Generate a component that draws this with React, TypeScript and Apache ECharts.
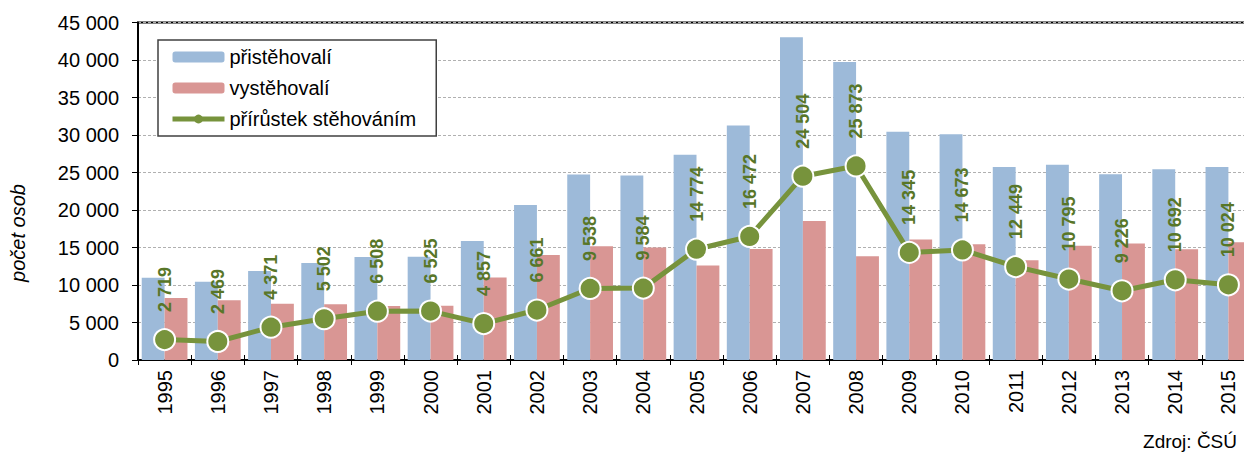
import React, { useEffect, useRef } from "react";
import * as echarts from "echarts";

const years = ["1995","1996","1997","1998","1999","2000","2001","2002","2003","2004","2005","2006","2007","2008","2009","2010","2011","2012","2013","2014","2015"];
const immigrants = [10980, 10420, 11860, 12950, 13720, 13770, 15860, 20660, 24720, 24600, 27380, 31260, 43030, 39720, 30420, 30090, 25740, 26020, 24770, 25450, 25740];
const emigrants = [8261, 7951, 7489, 7448, 7212, 7245, 11003, 13999, 15182, 15016, 12606, 14788, 18526, 13847, 16075, 15417, 13291, 15225, 15544, 14758, 15716];
const netMigration = [2719, 2469, 4371, 5502, 6508, 6525, 4857, 6661, 9538, 9584, 14774, 16472, 24504, 25873, 14345, 14673, 12449, 10795, 9226, 10692, 10024];

const seriesNames = ["přistěhovalí", "vystěhovalí", "přírůstek stěhováním"];
const yAxisTitle = "počet osob";
const sourceNote = "Zdroj: ČSÚ";

const fmt = (v: number) => String(v).replace(/\B(?=(\d{3})+(?!\d))/g, " ");
const FONT = "Liberation Sans, Arial, sans-serif";
const GREEN = "#77933C";

export default function App() {
  const ref = useRef<HTMLDivElement>(null);
  useEffect(() => {
    if (!ref.current) return;
    const chart = echarts.init(ref.current, undefined, { renderer: "svg" });
    chart.setOption({
      animation: false,
      backgroundColor: "#ffffff",
      textStyle: { fontFamily: FONT },
      grid: {
        left: 138,
        top: 22.5,
        bottom: 94,
        right: 1,
        show: true,
        borderColor: "#000",
        borderWidth: 2,
        backgroundColor: "transparent",
      },
      legend: {
        orient: "vertical",
        left: 158,
        top: 40,
        padding: [6, 20, 6, 12],
        itemGap: 9,
        itemWidth: 52,
        itemHeight: 11,
        backgroundColor: "#fff",
        borderColor: "#404040",
        borderWidth: 1.5,
        textStyle: { fontSize: 20, color: "#000", fontFamily: FONT, lineHeight: 22 },
        data: [
          { name: seriesNames[0] },
          { name: seriesNames[1] },
          {
            name: seriesNames[2],
            lineStyle: { width: 5, color: GREEN },
            itemStyle: { color: GREEN, borderWidth: 0 },
          },
        ],
      },
      xAxis: [
        {
          type: "category",
          data: years,
          axisLine: { lineStyle: { color: "#000", width: 2 } },
          axisTick: { show: true, length: 5, lineStyle: { color: "#000", width: 1 } },
          axisLabel: { rotate: 90, fontSize: 20, color: "#000", margin: 10, fontFamily: FONT },
        },
        {
          type: "category",
          data: years,
          position: "bottom",
          offset: 0,
          axisLine: { show: false },
          axisTick: { show: true, inside: true, length: 5, lineStyle: { color: "#000", width: 1 } },
          axisLabel: { show: false },
        },
      ],
      yAxis: {
        type: "value",
        min: 0,
        max: 45000,
        interval: 5000,
        axisLine: { show: true, lineStyle: { color: "#000", width: 2 } },
        axisTick: { show: true, length: 6, lineStyle: { color: "#000" } },
        axisLabel: { fontSize: 20, color: "#000", margin: 19, formatter: (v: number) => fmt(v), fontFamily: FONT },
        splitLine: { show: true, lineStyle: { color: "#B0B0B0", type: [3, 2], width: 1 } },
      },
      series: [
        {
          name: seriesNames[0],
          type: "bar",
          data: immigrants,
          barGap: "0%",
          barCategoryGap: "14%",
          itemStyle: { color: "#9DBAD9" },
        },
        {
          name: seriesNames[1],
          type: "bar",
          data: emigrants,
          itemStyle: { color: "#D99694" },
        },
        {
          name: seriesNames[2],
          type: "line",
          data: netMigration,
          symbol: "circle",
          symbolSize: 21,
          lineStyle: { color: GREEN, width: 5 },
          itemStyle: { color: GREEN, borderColor: "#fff", borderWidth: 2 },
          label: {
            show: true,
            position: "top",
            rotate: 90,
            align: "left",
            verticalAlign: "middle",
            distance: 16,
            fontSize: 18,
            fontWeight: "bold",
            color: "#587628",
            fontFamily: FONT,
            formatter: (p: any) => fmt(p.value),
          },
          z: 5,
        },
      ],
      graphic: [
        {
          type: "text",
          x: 18,
          y: 233,
          rotation: Math.PI / 2,
          style: {
            text: yAxisTitle,
            fontSize: 20,
            fontStyle: "italic",
            fill: "#000",
            align: "center",
            verticalAlign: "middle",
            fontFamily: FONT,
          },
        },
        {
          type: "text",
          x: 1237,
          y: 441,
          style: { text: sourceNote, fontSize: 19, fill: "#000", fontFamily: FONT, align: "right", verticalAlign: "middle" },
        },
      ],
    });
    return () => chart.dispose();
  }, []);
  return (
    <div style={{ position: "absolute", left: 0, top: 0, width: 1244, height: 454, overflow: "hidden" }}>
      <div ref={ref} style={{ width: 1256, height: 454 }} />
    </div>
  );
}
